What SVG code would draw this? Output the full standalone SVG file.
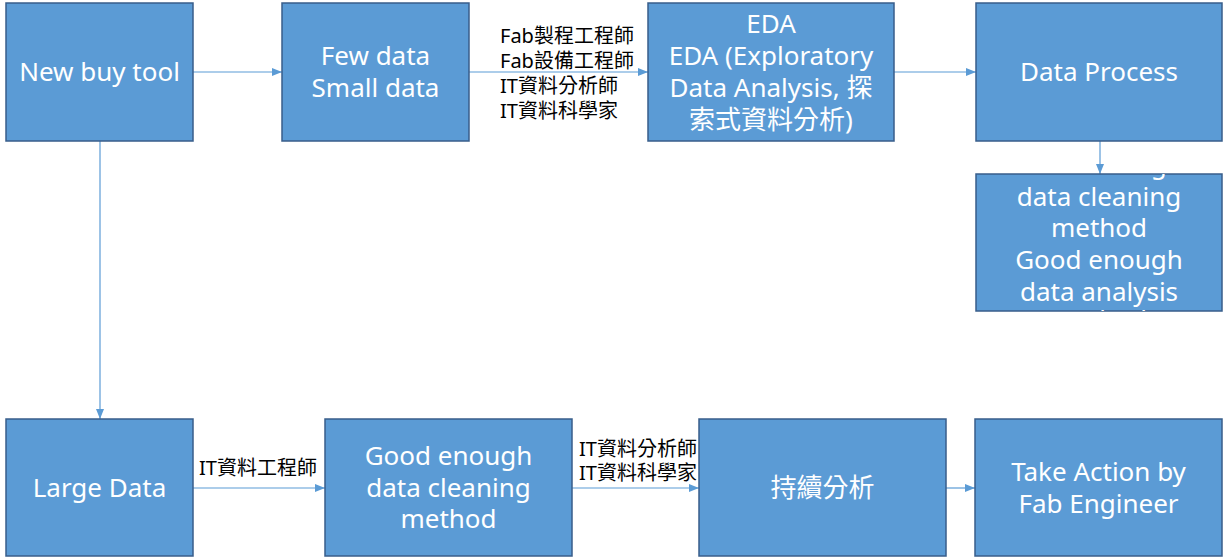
<svg xmlns="http://www.w3.org/2000/svg" width="1224" height="558" viewBox="0 0 1224 558">
<style>
.box{fill:#5B9BD5;stroke:#385D8A;stroke-width:1.5}
.t{font-family:"Noto Sans","Open Sans","Noto Sans CJK TC",sans-serif;font-size:26px;fill:#fff;text-anchor:middle}
.l{font-family:"Noto Sans","Noto Sans CJK TC",sans-serif;font-size:20px;fill:#000}
.c{stroke:#5B9BD5;stroke-width:1.2;fill:none;marker-end:url(#ah)}
</style>
<defs>
<marker id="ah" markerWidth="10" markerHeight="8" refX="10" refY="4" orient="auto" markerUnits="userSpaceOnUse">
<path d="M0,0 L10,4 L0,8 Z" fill="#5B9BD5"/>
</marker>
<clipPath id="clip5"><rect x="976" y="174" width="246" height="137"/></clipPath>
</defs>
<rect width="1224" height="558" fill="#fff"/>
<g id="connectors">
<line class="c" x1="193" y1="72" x2="282" y2="72"/>
<line class="c" x1="469" y1="72" x2="648" y2="72"/>
<line class="c" x1="894" y1="72" x2="976" y2="72"/>
<line class="c" x1="1100" y1="141" x2="1100" y2="174"/>
<line class="c" x1="100" y1="141" x2="100" y2="419"/>
<line class="c" x1="193" y1="488" x2="325" y2="488"/>
<line class="c" x1="572" y1="488" x2="699" y2="488"/>
<line class="c" x1="946" y1="488" x2="975" y2="488"/>
</g>
<g id="labels">
<text class="l" x="500" y="43">Fab製程工程師</text>
<text class="l" x="500" y="68">Fab設備工程師</text>
<text class="l" x="500" y="93">IT資料分析師</text>
<text class="l" x="500" y="118">IT資料科學家</text>
<text class="l" x="199" y="475">IT資料工程師</text>
<text class="l" x="579" y="456">IT資料分析師</text>
<text class="l" x="579" y="480">IT資料科學家</text>
</g>
<g id="n1"><rect class="box" x="6" y="3" width="187" height="138"/><text class="t" x="99.5" y="81">New buy tool</text></g>
<g id="n2"><rect class="box" x="282" y="3" width="187" height="138"/><text class="t" x="375.5" y="65">Few data</text><text class="t" x="375.5" y="97">Small data</text></g>
<g id="n3"><rect class="box" x="648" y="3" width="246" height="138"/>
<text class="t" x="771" y="33">EDA</text><text class="t" x="771" y="65">EDA (Exploratory</text><text class="t" x="771" y="97">Data Analysis, 探</text><text class="t" x="771" y="129">索式資料分析)</text></g>
<g id="n4"><rect class="box" x="976" y="3" width="246" height="138"/><text class="t" x="1099" y="81">Data Process</text></g>
<g id="n5"><rect class="box" x="976" y="174" width="246" height="137"/>
<g clip-path="url(#clip5)">
<text class="t" x="1099" y="174">Good enough</text><text class="t" x="1099" y="206">data cleaning</text><text class="t" x="1099" y="237">method</text><text class="t" x="1099" y="269">Good enough</text><text class="t" x="1099" y="301">data analysis</text><text class="t" x="1099" y="329">method</text>
</g></g>
<g id="n6"><rect class="box" x="6" y="419" width="187" height="137"/><text class="t" x="99.5" y="497">Large Data</text></g>
<g id="n7"><rect class="box" x="325" y="419" width="247" height="137"/><text class="t" x="448.5" y="465">Good enough</text><text class="t" x="448.5" y="497">data cleaning</text><text class="t" x="448.5" y="528">method</text></g>
<g id="n8"><rect class="box" x="699" y="419" width="247" height="137"/><text class="t" x="822.5" y="497">持續分析</text></g>
<g id="n9"><rect class="box" x="975" y="419" width="247" height="137"/><text class="t" x="1098.5" y="481">Take Action by</text><text class="t" x="1098.5" y="513">Fab Engineer</text></g>
</svg>
